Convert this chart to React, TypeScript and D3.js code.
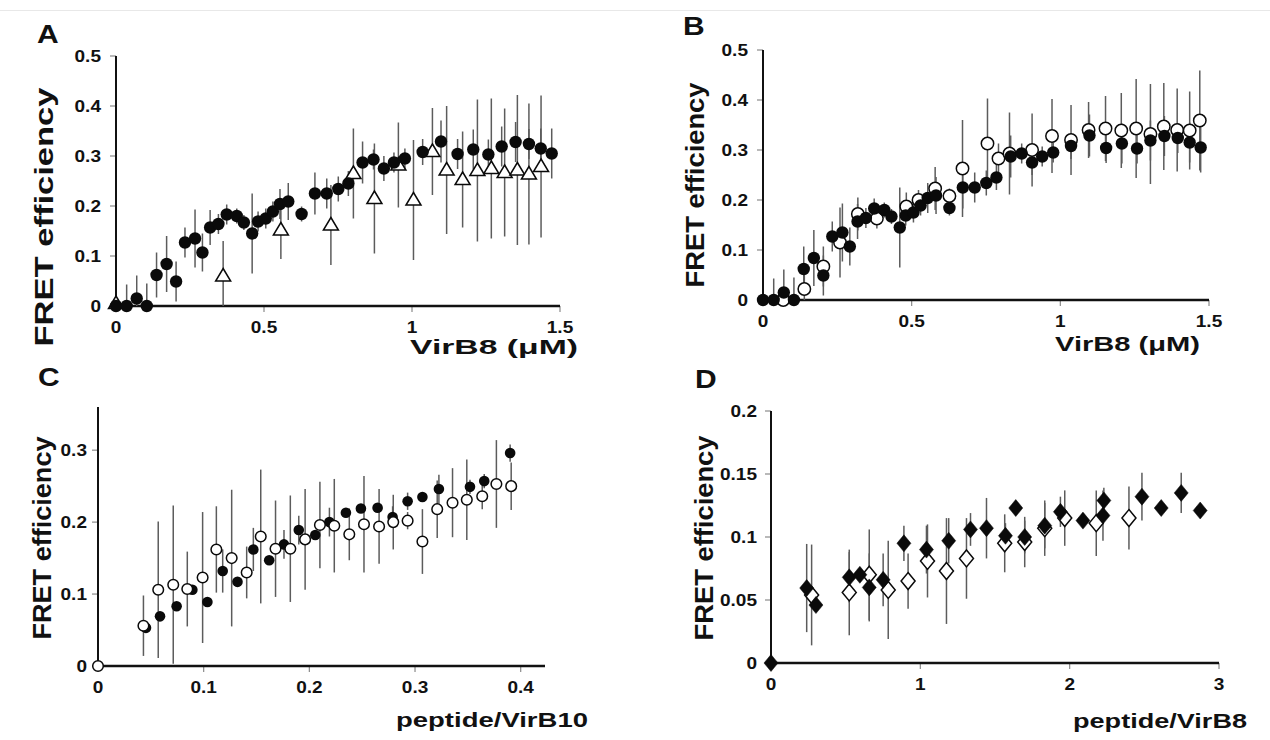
import { useEffect, useRef } from 'react';
import * as d3 from 'd3';

// VirB8 titration, closed circles (shared by panels A and B)
const vbX = [0, 0.036, 0.07, 0.104, 0.137, 0.171, 0.203, 0.233, 0.267, 0.292, 0.318, 0.346, 0.374, 0.408, 0.432, 0.46, 0.48, 0.506, 0.53, 0.554, 0.582, 0.627, 0.672, 0.712, 0.751, 0.785, 0.833, 0.87, 0.905, 0.939, 0.976, 1.036, 1.098, 1.154, 1.207, 1.258, 1.303, 1.35, 1.395, 1.435, 1.472];
const vbY = [0, 0, 0.015, 0, 0.062, 0.084, 0.049, 0.127, 0.135, 0.107, 0.157, 0.164, 0.183, 0.18, 0.167, 0.145, 0.169, 0.175, 0.189, 0.204, 0.209, 0.184, 0.225, 0.225, 0.234, 0.245, 0.287, 0.293, 0.275, 0.287, 0.295, 0.308, 0.329, 0.304, 0.313, 0.303, 0.319, 0.328, 0.324, 0.315, 0.305];
const vbErr = [0, 0.043, 0.046, 0.045, 0.045, 0.056, 0.04, 0.03, 0.058, 0.038, 0.035, 0.02, 0.02, 0.015, 0.015, 0.08, 0.02, 0.02, 0.02, 0.03, 0.037, 0.015, 0.042, 0.03, 0.025, 0.025, 0.042, 0.02, 0.025, 0.02, 0.02, 0.026, 0.042, 0.03, 0.04, 0.03, 0.04, 0.04, 0.03, 0.04, 0.05];

// panel A, open triangles
const triX = [0, 0.362, 0.557, 0.726, 0.802, 0.873, 0.954, 1.005, 1.069, 1.117, 1.171, 1.221, 1.268, 1.313, 1.356, 1.395, 1.436];
const triY = [0.005, 0.06, 0.152, 0.162, 0.265, 0.215, 0.282, 0.212, 0.309, 0.272, 0.253, 0.271, 0.275, 0.267, 0.272, 0.264, 0.279];
const triErr = [0, 0.07, 0.058, 0.08, 0.09, 0.11, 0.085, 0.12, 0.087, 0.128, 0.096, 0.142, 0.14, 0.128, 0.15, 0.141, 0.142];

// panel B, open circles
const openBX = [0.068, 0.139, 0.203, 0.259, 0.319, 0.383, 0.482, 0.523, 0.579, 0.627, 0.671, 0.755, 0.792, 0.829, 0.905, 0.972, 1.036, 1.095, 1.152, 1.205, 1.255, 1.303, 1.348, 1.393, 1.435, 1.469];
const openBY = [0, 0.022, 0.067, 0.115, 0.172, 0.163, 0.187, 0.2, 0.223, 0.208, 0.263, 0.313, 0.283, 0.293, 0.3, 0.328, 0.32, 0.34, 0.343, 0.339, 0.343, 0.332, 0.347, 0.34, 0.339, 0.359];
const openBErr = [0, 0.043, 0.04, 0.07, 0.033, 0.02, 0.028, 0.02, 0.043, 0.015, 0.097, 0.09, 0.03, 0.082, 0.073, 0.074, 0.07, 0.056, 0.065, 0.075, 0.099, 0.1, 0.087, 0.083, 0.078, 0.1];

// panel C, peptide/VirB10
const cFillX = [0.0454, 0.0587, 0.0744, 0.0893, 0.1035, 0.118, 0.132, 0.147, 0.162, 0.176, 0.19, 0.2056, 0.219, 0.2346, 0.2488, 0.2646, 0.2788, 0.293, 0.307, 0.3226, 0.352, 0.3655, 0.39];
const cFillY = [0.053, 0.069, 0.083, 0.106, 0.089, 0.132, 0.117, 0.162, 0.147, 0.169, 0.189, 0.182, 0.2, 0.213, 0.219, 0.22, 0.207, 0.229, 0.235, 0.246, 0.249, 0.257, 0.296];
const cFillErr = [0, 0, 0, 0, 0, 0.03, 0, 0.03, 0, 0.02, 0.02, 0, 0.02, 0, 0, 0, 0.015, 0.012, 0, 0.02, 0.01, 0.01, 0.012];
const cOpenX = [0, 0.043, 0.057, 0.0712, 0.0845, 0.099, 0.112, 0.1265, 0.1407, 0.154, 0.168, 0.182, 0.196, 0.21, 0.2236, 0.2378, 0.2517, 0.266, 0.2794, 0.293, 0.307, 0.321, 0.3355, 0.349, 0.3636, 0.377, 0.391];
const cOpenY = [0, 0.056, 0.106, 0.113, 0.107, 0.123, 0.162, 0.15, 0.13, 0.18, 0.163, 0.163, 0.176, 0.196, 0.195, 0.183, 0.197, 0.194, 0.2, 0.202, 0.173, 0.218, 0.227, 0.231, 0.236, 0.253, 0.25];
const cOpenErr = [0, 0.042, 0.095, 0.11, 0.052, 0.091, 0.06, 0.095, 0.036, 0.093, 0.067, 0.074, 0.07, 0.06, 0.065, 0.036, 0.067, 0.052, 0.038, 0.012, 0.045, 0.04, 0.048, 0.056, 0.018, 0.061, 0.033];

// panel D, peptide/VirB8
const dFillX = [0, 0.239, 0.301, 0.524, 0.595, 0.658, 0.751, 0.89, 1.041, 1.19, 1.336, 1.443, 1.57, 1.639, 1.699, 1.833, 1.938, 2.089, 2.223, 2.229, 2.484, 2.613, 2.747, 2.874];
const dFillY = [0, 0.0595, 0.046, 0.068, 0.07, 0.06, 0.066, 0.095, 0.09, 0.097, 0.106, 0.107, 0.101, 0.123, 0.1, 0.109, 0.12, 0.113, 0.117, 0.129, 0.132, 0.123, 0.135, 0.121];
const dFillErr = [0, 0.035, 0, 0.02, 0, 0.027, 0.021, 0.014, 0.019, 0.018, 0.013, 0.024, 0.01, 0, 0.013, 0.018, 0.012, 0, 0.02, 0.01, 0.019, 0, 0.016, 0];
const dOpenX = [0.272, 0.524, 0.658, 0.785, 0.918, 1.048, 1.175, 1.309, 1.565, 1.699, 1.833, 1.967, 2.178, 2.397];
const dOpenY = [0.054, 0.056, 0.07, 0.058, 0.065, 0.081, 0.073, 0.083, 0.095, 0.096, 0.107, 0.115, 0.111, 0.115];
const dOpenErr = [0.04, 0.034, 0.036, 0.039, 0.022, 0.029, 0.042, 0.032, 0.023, 0.02, 0.022, 0.022, 0.026, 0.025];

// tick values
const abXTicks = [0, 0.5, 1, 1.5];
const abYTicks = [0, 0.1, 0.2, 0.3, 0.4, 0.5];
const cXTicks = [0, 0.1, 0.2, 0.3, 0.4];
const cYTicks = [0, 0.1, 0.2, 0.3];
const dXTicks = [0, 1, 2, 3];
const dYTicks = [0, 0.05, 0.1, 0.15, 0.2];

const FONT = '"Liberation Sans", Arial, Helvetica, sans-serif';
const INK = '#111';

const zip = (xs, ys, es) => xs.map((x, i) => ({ x, y: ys[i], e: es[i] }));

const panels = [
    {
        letter: 'A', letterPos: [37, 43],
        xDomain: [0, 1.5], xRange: [116, 560], yDomain: [0, 0.5], yRange: [306, 56],
        xTicks: abXTicks, yTicks: abYTicks, labelGap: 15,
        yTitle: { x: 53, y: 217, len: 259 },
        xTitle: { text: 'VirB8 (μM)', x: 410, y: 354, len: 168 },
        series: [
            { pts: zip(triX, triY, triErr), shape: 'triangle' },
            { pts: zip(vbX, vbY, vbErr), shape: 'dot', r: 6.2 }
        ]
    },
    {
        letter: 'B', letterPos: [683, 35],
        xDomain: [0, 1.5], xRange: [763, 1209], yDomain: [0, 0.5], yRange: [300, 50],
        xTicks: abXTicks, yTicks: abYTicks, labelGap: 15,
        yTitle: { x: 704, y: 185, len: 205 },
        xTitle: { text: 'VirB8 (μM)', x: 1055, y: 351, len: 145 },
        series: [
            { pts: zip(openBX, openBY, openBErr), shape: 'ring', r: 6.2 },
            { pts: zip(vbX, vbY, vbErr), shape: 'dot', r: 6.2 }
        ]
    },
    {
        letter: 'C', letterPos: [38, 386],
        xDomain: [0, 0.423], xRange: [98, 545], yDomain: [0, 0.36], yRange: [666, 407],
        xTicks: cXTicks, yTicks: cYTicks, labelGap: 11,
        yTitle: { x: 51, y: 538, len: 203 },
        xTitle: { text: 'peptide/VirB10', x: 396, y: 727, len: 192 },
        series: [
            { pts: zip(cFillX, cFillY, cFillErr), shape: 'dot', r: 5.3 },
            { pts: zip(cOpenX, cOpenY, cOpenErr), shape: 'ring', r: 5.3 }
        ]
    },
    {
        letter: 'D', letterPos: [695, 388],
        xDomain: [0, 3], xRange: [771, 1219], yDomain: [0, 0.2], yRange: [663, 411],
        xTicks: dXTicks, yTicks: dYTicks, labelGap: 14,
        yTitle: { x: 713, y: 538, len: 205 },
        xTitle: { text: 'peptide/VirB8', x: 1073, y: 728, len: 174 },
        series: [
            { pts: zip(dOpenX, dOpenY, dOpenErr), shape: 'openDiamond' },
            { pts: zip(dFillX, dFillY, dFillErr), shape: 'diamond' }
        ]
    }
];

const TRI = 'M0,-7.5 L7.5,5 L-7.5,5 Z';
const DIA = 'M0,-8.5 L7,0 L0,8.5 L-7,0 Z';

function drawPanel(svg, p) {
    const g = svg.append('g');
    const x = d3.scaleLinear().domain(p.xDomain).range(p.xRange);
    const y = d3.scaleLinear().domain(p.yDomain).range(p.yRange);
    const x0 = x(0);
    const y0 = y(0);

    // tick marks
    g.selectAll('.ytick')
        .data(p.yTicks.filter(t => t > 0))
        .enter()
        .append('line')
        .attr('x1', x0 - 6).attr('x2', x0)
        .attr('y1', d => y(d)).attr('y2', d => y(d))
        .attr('stroke', '#8a8a8a').attr('stroke-width', 1.2);

    g.selectAll('.xtick')
        .data(p.xTicks.filter(t => t > 0))
        .enter()
        .append('line')
        .attr('x1', d => x(d)).attr('x2', d => x(d))
        .attr('y1', y0).attr('y2', y0 + 6)
        .attr('stroke', '#8a8a8a').attr('stroke-width', 1.2);

    // tick labels (the original figure is slightly stretched sideways)
    g.selectAll('.ylab')
        .data(p.yTicks)
        .enter()
        .append('text')
        .attr('transform', d => `translate(${x0 - p.labelGap},${y(d) + 6}) scale(1.12,1)`)
        .attr('text-anchor', 'end')
        .attr('font-family', FONT).attr('font-weight', 700).attr('font-size', 17)
        .attr('fill', INK)
        .text(d => String(d));

    g.selectAll('.xlab')
        .data(p.xTicks)
        .enter()
        .append('text')
        .attr('transform', d => `translate(${x(d)},${y0 + 27}) scale(1.12,1)`)
        .attr('text-anchor', 'middle')
        .attr('font-family', FONT).attr('font-weight', 700).attr('font-size', 17)
        .attr('fill', INK)
        .text(d => String(d));

    // axis lines
    g.append('line')
        .attr('x1', x0).attr('x2', x0)
        .attr('y1', y0).attr('y2', y(p.yDomain[1]))
        .attr('stroke', INK).attr('stroke-width', 2);
    g.append('line')
        .attr('x1', x0).attr('x2', x(p.xDomain[1]))
        .attr('y1', y0).attr('y2', y0)
        .attr('stroke', INK).attr('stroke-width', 2.5);

    // error bars under all markers
    p.series.forEach(s => {
        g.selectAll(null)
            .data(s.pts.filter(d => d.e > 0))
            .enter()
            .append('line')
            .attr('x1', d => x(d.x)).attr('x2', d => x(d.x))
            .attr('y1', d => y(Math.max(0, d.y - d.e)))
            .attr('y2', d => y(d.y + d.e))
            .attr('stroke', '#5c5c5c').attr('stroke-width', 1.5);
    });

    // markers
    p.series.forEach(s => {
        const sel = g.selectAll(null).data(s.pts).enter();
        if (s.shape === 'dot' || s.shape === 'ring') {
            sel.append('circle')
                .attr('cx', d => x(d.x)).attr('cy', d => y(d.y))
                .attr('r', s.r)
                .attr('fill', s.shape === 'dot' ? '#0a0a0a' : '#fff')
                .attr('stroke', '#0a0a0a')
                .attr('stroke-width', s.shape === 'dot' ? 0 : 1.5);
        } else {
            const path = s.shape === 'triangle' ? TRI : DIA;
            const filled = s.shape === 'diamond';
            sel.append('path')
                .attr('d', path)
                .attr('transform', d => `translate(${x(d.x)},${y(d.y)})`)
                .attr('fill', filled ? '#0a0a0a' : '#fff')
                .attr('stroke', '#0a0a0a')
                .attr('stroke-width', filled ? 0.5 : 1.5);
        }
    });

    // titles
    g.append('text')
        .attr('transform', `translate(${p.yTitle.x},${p.yTitle.y}) rotate(-90)`)
        .attr('text-anchor', 'middle')
        .attr('font-family', FONT).attr('font-weight', 700).attr('font-size', 26)
        .attr('textLength', p.yTitle.len).attr('lengthAdjust', 'spacingAndGlyphs')
        .attr('fill', INK)
        .text('FRET efficiency');

    g.append('text')
        .attr('x', p.xTitle.x).attr('y', p.xTitle.y)
        .attr('font-family', FONT).attr('font-weight', 700).attr('font-size', 21)
        .attr('textLength', p.xTitle.len).attr('lengthAdjust', 'spacingAndGlyphs')
        .attr('fill', INK)
        .text(p.xTitle.text);

    g.append('text')
        .attr('transform', `translate(${p.letterPos[0]},${p.letterPos[1]}) scale(1.2,1)`)
        .attr('font-family', FONT).attr('font-weight', 700).attr('font-size', 25)
        .attr('fill', INK)
        .text(p.letter);
}

const App = () => {
    const svgRef = useRef(null);

    useEffect(() => {
        if (!svgRef.current) return;
        const svg = d3.select(svgRef.current);
        svg.selectAll('*').remove();

        svg.append('rect').attr('width', 1270).attr('height', 740).attr('fill', '#fff');
        svg.append('line')
            .attr('x1', 0).attr('x2', 1270).attr('y1', 10.5).attr('y2', 10.5)
            .attr('stroke', '#e8e8e8').attr('stroke-width', 1);

        panels.forEach(p => drawPanel(svg, p));
    }, []);

    return (
        <svg
            ref={svgRef}
            width={1270}
            height={740}
            style={{ position: 'absolute', left: 0, top: 0, display: 'block' }}
        ></svg>
    );
};

export default App;
